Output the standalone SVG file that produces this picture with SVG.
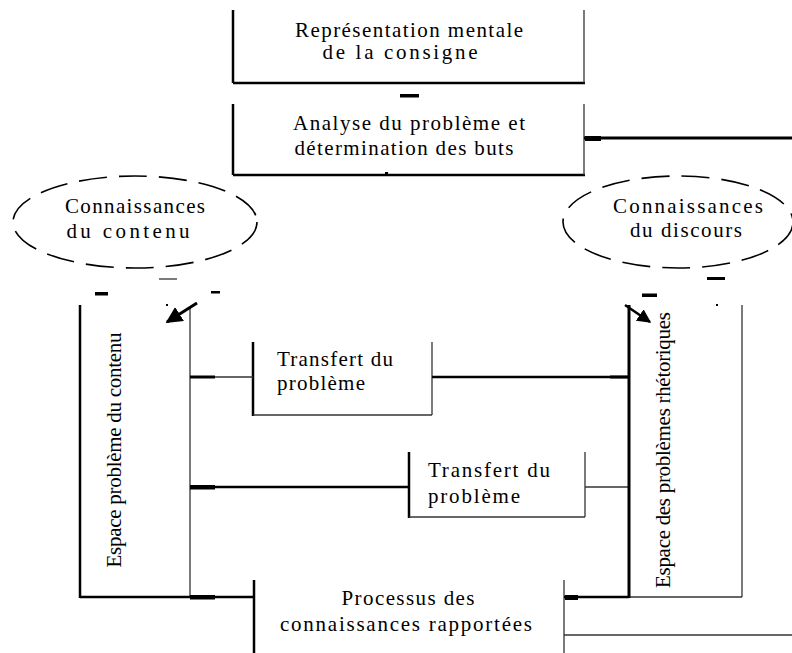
<svg xmlns="http://www.w3.org/2000/svg" width="792" height="653" viewBox="0 0 792 653">
  <style>
    text { font-family: "Liberation Serif", "Times New Roman", serif; font-size: 21px; fill: #000; }
    .mid { text-anchor: middle; }
    .thick { stroke: #000; stroke-width: 2.5; fill: none; }
    .heavy { stroke: #000; stroke-width: 3; fill: none; }
    .thin { stroke: #333; stroke-width: 1.3; fill: none; }
    .oval { fill: none; stroke: #000; stroke-width: 1.6; stroke-dasharray: 28 12; }
    .mark { fill: #000; }
  </style>
  <defs>
    <marker id="head" viewBox="0 0 10 10" refX="9" refY="5" markerWidth="5.5" markerHeight="5.5" orient="auto">
      <path d="M0,0 L10,5 L0,10 z" fill="#000"/>
    </marker>
  </defs>

  <rect width="792" height="653" fill="#fff"/>

  <!-- top box: mental representation of the instruction -->
  <g id="representation">
    <line class="thick" x1="233" y1="10" x2="233" y2="83"/>
    <line class="thick" x1="233" y1="83" x2="585" y2="83"/>
    <line class="thin" x1="584" y1="10" x2="584" y2="83"/>
    <text class="mid" x="409" y="37" textLength="228" lengthAdjust="spacing">Représentation mentale</text>
    <text class="mid" x="400" y="59" textLength="155" lengthAdjust="spacing">de la consigne</text>
  </g>

  <!-- problem analysis box -->
  <g id="analyse">
    <line class="thick" x1="233" y1="104" x2="233" y2="175"/>
    <line class="thick" x1="233" y1="175" x2="585" y2="175"/>
    <line class="thin" x1="584" y1="104" x2="584" y2="175"/>
    <text class="mid" x="409" y="130" textLength="232" lengthAdjust="spacing">Analyse du problème et</text>
    <text class="mid" x="404" y="155" textLength="219" lengthAdjust="spacing">détermination des buts</text>
  </g>

  <!-- content knowledge -->
  <g id="connaissances-contenu">
    <ellipse class="oval" cx="135" cy="222" rx="122" ry="46"/>
    <text class="mid" x="135" y="213" textLength="140" lengthAdjust="spacing">Connaissances</text>
    <text class="mid" x="128" y="238" textLength="123" lengthAdjust="spacing">du contenu</text>
  </g>

  <!-- discourse knowledge -->
  <g id="connaissances-discours">
    <ellipse class="oval" cx="678" cy="222" rx="115" ry="46"/>
    <text class="mid" x="688" y="213" textLength="150" lengthAdjust="spacing">Connaissances</text>
    <text class="mid" x="686" y="237" textLength="112" lengthAdjust="spacing">du discours</text>
  </g>

  <!-- content problem space -->
  <g id="espace-contenu">
    <line class="thick" x1="80" y1="305" x2="80" y2="598"/>
    <line class="thin" x1="190" y1="307" x2="190" y2="597"/>
    <text class="mid" transform="translate(121,450) rotate(-90)" x="0" y="0" textLength="235" lengthAdjust="spacing">Espace problème du contenu</text>
  </g>

  <!-- rhetorical problem space -->
  <g id="espace-rhetorique">
    <line class="thin" x1="742" y1="305" x2="742" y2="597"/>
    <line class="thin" x1="629" y1="597" x2="742" y2="597"/>
    <text class="mid" transform="translate(670,450) rotate(-90)" x="0" y="0" textLength="276" lengthAdjust="spacing">Espace des problèmes rhétoriques</text>
  </g>

  <!-- first problem transfer -->
  <g id="transfert-1">
    <line class="thick" x1="253" y1="342" x2="253" y2="416"/>
    <line class="thin" x1="253" y1="415" x2="432" y2="415"/>
    <line class="thin" x1="432" y1="342" x2="432" y2="415"/>
    <text x="277" y="366" textLength="116" lengthAdjust="spacing">Transfert du</text>
    <text x="277" y="390" textLength="88" lengthAdjust="spacing">problème</text>
  </g>

  <!-- second problem transfer -->
  <g id="transfert-2">
    <line class="thick" x1="409" y1="452" x2="409" y2="518"/>
    <line class="thin" x1="409" y1="517" x2="585" y2="517"/>
    <line class="thin" x1="585" y1="452" x2="585" y2="517"/>
    <text x="428" y="477" textLength="122" lengthAdjust="spacing">Transfert du</text>
    <text x="428" y="503" textLength="92" lengthAdjust="spacing">problème</text>
  </g>

  <!-- reported knowledge process -->
  <g id="processus">
    <line class="thick" x1="254" y1="580" x2="254" y2="653"/>
    <line class="thin" x1="564" y1="580" x2="564" y2="653"/>
    <text class="mid" x="408" y="605" textLength="133" lengthAdjust="spacing">Processus des</text>
    <text class="mid" x="406" y="631" textLength="252" lengthAdjust="spacing">connaissances rapportées</text>
  </g>

  <!-- connectors -->
  <g id="connectors">
    <!-- analysis to the right -->
    <line class="heavy" x1="584" y1="138" x2="792" y2="138"/>
    <rect class="mark" x="585" y="136" width="16" height="5"/>
    <!-- left column links -->
    <line class="thin" x1="190" y1="377" x2="253" y2="377"/>
    <rect class="mark" x="190" y="375.5" width="25" height="3"/>
    <line class="thick" x1="432" y1="377" x2="629" y2="377"/>
    <rect class="mark" x="610" y="375.5" width="19" height="3"/>
    <line class="thick" x1="190" y1="487" x2="409" y2="487"/>
    <rect class="mark" x="190" y="485" width="25" height="4.5"/>
    <line class="thin" x1="585" y1="487" x2="629" y2="487"/>
    <line class="thick" x1="80" y1="597" x2="254" y2="597"/>
    <rect class="mark" x="190" y="595" width="25" height="4.5"/>
    <!-- right column spine and link to the process -->
    <line class="heavy" x1="629" y1="305" x2="629" y2="598"/>
    <line class="thick" x1="564" y1="597" x2="629" y2="597"/>
    <rect class="mark" x="565" y="595" width="13" height="5"/>
    <line class="thin" x1="564" y1="635" x2="792" y2="635"/>
    <!-- small marks between the boxes -->
    <rect class="mark" x="400" y="94" width="19" height="3.5"/>
    <rect class="mark" x="385" y="172" width="3" height="3"/>
    <rect class="mark" x="95" y="292" width="13" height="3.5"/>
    <line class="thin" x1="159" y1="279" x2="177" y2="279"/>
    <rect class="mark" x="211" y="291" width="9" height="2.5"/>
    <rect class="mark" x="166" y="304" width="2" height="2"/>
    <rect class="mark" x="707" y="277" width="18" height="3"/>
    <rect class="mark" x="642" y="293.5" width="15" height="3.5"/>
    <rect class="mark" x="716" y="304" width="2" height="2"/>
    <!-- arrows into the problem spaces -->
    <line x1="197" y1="303" x2="167" y2="322" stroke="#000" stroke-width="3" marker-end="url(#head)"/>
    <line x1="625" y1="305" x2="650" y2="322" stroke="#000" stroke-width="2.5" marker-end="url(#head)"/>
  </g>
</svg>
